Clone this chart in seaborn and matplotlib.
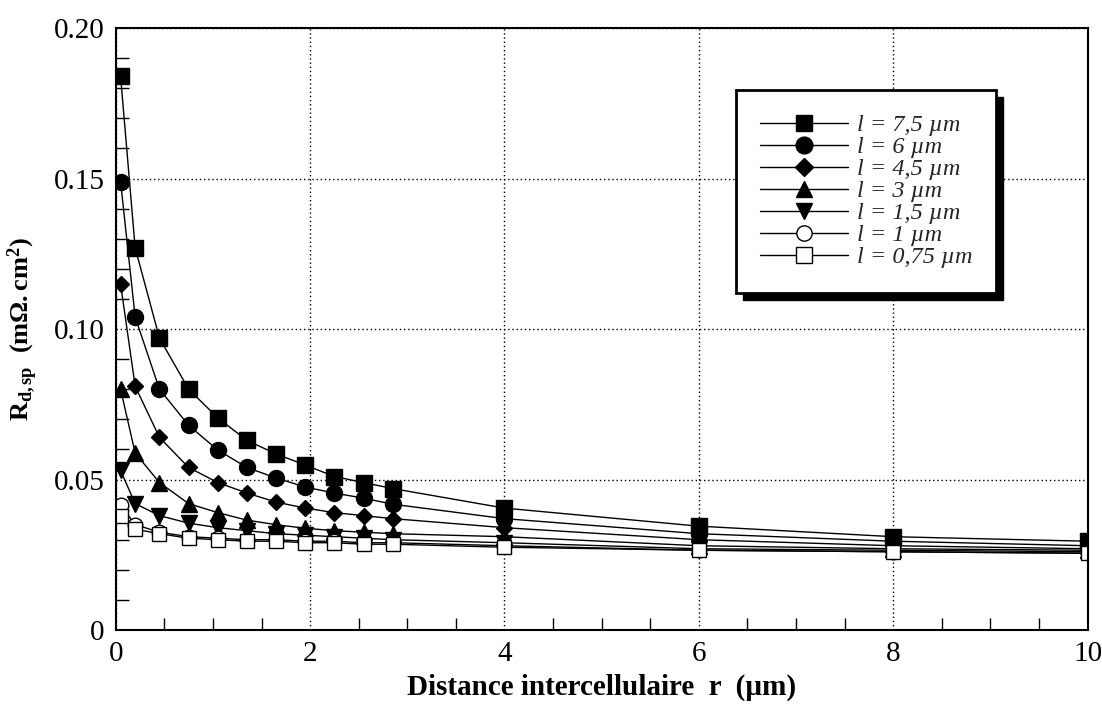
import numpy as np
import pandas as pd
import matplotlib
matplotlib.use("Agg")
import matplotlib.pyplot as plt
import seaborn as sns
from matplotlib.patches import Rectangle
from matplotlib.transforms import IdentityTransform
from matplotlib.ticker import MultipleLocator

# ---------------- data ----------------
r_values = [0.05, 0.2, 0.45, 0.75, 1.05, 1.35, 1.65, 1.95, 2.25, 2.55, 2.85, 4, 6, 8, 10]

R_l75 = [0.184, 0.127, 0.097, 0.080, 0.0705, 0.063, 0.0585, 0.0548, 0.051, 0.049, 0.047, 0.0405, 0.0345, 0.031, 0.0295]
R_l6 = [0.149, 0.104, 0.080, 0.068, 0.0598, 0.054, 0.0505, 0.0475, 0.0455, 0.0438, 0.0418, 0.037, 0.032, 0.0295, 0.028]
R_l45 = [0.115, 0.081, 0.064, 0.054, 0.049, 0.0455, 0.0425, 0.0405, 0.039, 0.038, 0.037, 0.034, 0.030, 0.028, 0.027]
R_l3 = [0.080, 0.0588, 0.049, 0.042, 0.039, 0.0365, 0.035, 0.0338, 0.033, 0.0325, 0.032, 0.031, 0.028, 0.027, 0.0265]
R_l15 = [0.053, 0.042, 0.038, 0.0355, 0.034, 0.033, 0.032, 0.0315, 0.031, 0.0305, 0.030, 0.029, 0.027, 0.0265, 0.026]
R_l1 = [0.0415, 0.035, 0.0325, 0.031, 0.0305, 0.030, 0.030, 0.0295, 0.0295, 0.029, 0.029, 0.028, 0.0265, 0.026, 0.0255]
R_l075 = [0.038, 0.0335, 0.032, 0.0305, 0.030, 0.0295, 0.0295, 0.029, 0.029, 0.0285, 0.0285, 0.0275, 0.0265, 0.026, 0.0255]

series_labels = ["l = 7,5 µm", "l = 6 µm", "l = 4,5 µm", "l = 3 µm",
                 "l = 1,5 µm", "l = 1 µm", "l = 0,75 µm"]
series_values = [R_l75, R_l6, R_l45, R_l3, R_l15, R_l1, R_l075]

x_ticks = [0, 2, 4, 6, 8, 10]
y_ticks = [0, 0.05, 0.10, 0.15, 0.20]
y_tick_labels = ["0", "0.05", "0.10", "0.15", "0.20"]

# ---------------- style ----------------
markers = ["s", "o", "D", "^", "v", "o", "s"]
msizes = [11, 11.5, 8.5, 11, 11, 10.5, 10.5]
filled = [True, True, True, True, True, False, False]

sns.set_theme(style="white")
plt.rcParams["font.family"] = ["Liberation Serif", "DejaVu Serif"]
plt.rcParams["mathtext.fontset"] = "custom"
plt.rcParams["mathtext.rm"] = "Liberation Serif"
plt.rcParams["mathtext.it"] = "Liberation Serif:italic"
plt.rcParams["mathtext.bf"] = "Liberation Serif:bold"

fig = plt.figure(figsize=(11.02, 7.2), dpi=100)
ax = fig.add_axes([0.105, 0.125, 0.882, 0.836])

rows = []
for lab, vals in zip(series_labels, series_values):
    for rv, yv in zip(r_values, vals):
        rows.append({"r": rv, "R": yv, "l": lab})
df = pd.DataFrame(rows)

for lab, mk, ms, fl in zip(series_labels, markers, msizes, filled):
    sub = df[df["l"] == lab]
    sns.lineplot(data=sub, x="r", y="R", ax=ax, color="black", linewidth=1.0,
                 marker=mk, markersize=ms, markeredgecolor="black",
                 markerfacecolor="black" if fl else "white",
                 markeredgewidth=1.0, label=lab, sort=False, estimator=None)

ax.set_xlim(0, 10)
ax.set_ylim(0, 0.20)
ax.set_xticks(x_ticks)
ax.set_xticklabels([str(t) for t in x_ticks])
ax.set_yticks(y_ticks)
ax.set_yticklabels(y_tick_labels)
ax.xaxis.set_minor_locator(MultipleLocator(0.5))
ax.yaxis.set_minor_locator(MultipleLocator(0.01))
ax.tick_params(which="major", direction="in", length=15, width=1.2, color="black",
               labelsize=21, labelcolor="black", pad=8, top=False, right=False)
ax.tick_params(which="minor", direction="in", length=9, width=1.0, color="black",
               top=False, right=False, bottom=True, left=True)
ax.grid(True, which="major", linestyle=(0, (1, 2)), color="black", linewidth=1.0)

for sp in ax.spines.values():
    sp.set_visible(True)
    sp.set_color("black")
    sp.set_linewidth(1.5)

ax.set_xlabel("Distance intercellulaire  r  (µm)", fontsize=21, fontweight="bold",
              color="black", labelpad=5)
ax.set_ylabel(r"$\mathbf{R_{d,sp}}$  $\mathbf{(m\Omega.cm^2)}$", fontsize=19,
              color="black", labelpad=10)

leg = ax.legend(loc="upper right", bbox_to_anchor=(0.906, 0.897), frameon=True,
                fancybox=False, edgecolor="black", framealpha=1.0,
                prop={"family": "Liberation Serif", "style": "italic", "size": 17.5},
                handlelength=3.6, handletextpad=0.35, labelspacing=0.0,
                borderpad=1.0, borderaxespad=0.0, markerscale=1.05)
leg.get_frame().set_linewidth(2.0)
leg.set_zorder(6)

fig.canvas.draw()
bb = leg.get_window_extent()
shadow = Rectangle((bb.x0 + 7, bb.y0 - 7), bb.width, bb.height,
                   transform=IdentityTransform(), facecolor="black",
                   edgecolor="black", zorder=5.5, clip_on=False)
ax.add_patch(shadow)

fig.savefig("out.png", dpi=100)
